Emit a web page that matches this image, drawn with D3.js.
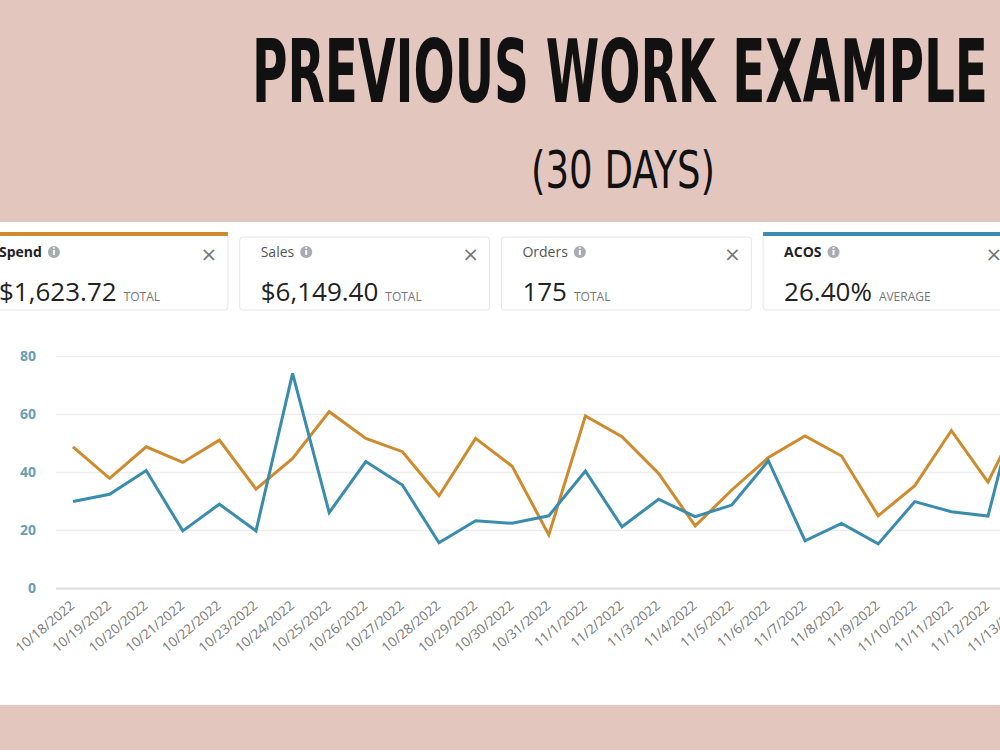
<!DOCTYPE html>
<html>
<head>
<meta charset="utf-8">
<script src="https://cdn.jsdelivr.net/npm/d3@7"></script>
<style>
  body { margin: 0; background: #e3c7bf; overflow: hidden; }
  svg { display: block; }
</style>
</head>
<body>
<svg></svg>
<script>
// chart values
const dates = ['10/18/2022','10/19/2022','10/20/2022','10/21/2022','10/22/2022','10/23/2022','10/24/2022',
  '10/25/2022','10/26/2022','10/27/2022','10/28/2022','10/29/2022','10/30/2022','10/31/2022',
  '11/1/2022','11/2/2022','11/3/2022','11/4/2022','11/5/2022','11/6/2022','11/7/2022',
  '11/8/2022','11/9/2022','11/10/2022','11/11/2022','11/12/2022','11/13/2022'];
const spend = [48.7, 37.8, 48.7, 43.3, 51, 34.1, 44.7, 60.8, 51.6, 47, 31.8, 51.6, 42, 18.3,
  59.3, 52.2, 39.5, 21.4, 33.8, 45, 52.4, 45.5, 24.9, 35.3, 54.3, 36.5, 62];
const acos = [29.8, 32.3, 40.5, 19.7, 28.9, 19.7, 74, 26, 43.6, 35.5, 15.6, 23.2, 22.3, 24.9,
  40.3, 21.1, 30.6, 24.6, 28.6, 43.9, 16.3, 22.3, 15.2, 29.8, 26.3, 24.8, 74];
const yTicks = [0, 20, 40, 60, 80];

const metricNames = ['Spend', 'Sales', 'Orders', 'ACOS'];
const metricValues = ['$1,623.72', '$6,149.40', '175', '26.40%'];
const metricNotes = ['TOTAL', 'TOTAL', 'TOTAL', 'AVERAGE'];
const metricSelected = [true, false, false, true];

const W = 1000, H = 750;
const orange = '#cf8a2c', blue = '#3a8cae';

const svg = d3.select('svg')
    .attr('width', W)
    .attr('height', H);

// title
svg.append('text')
    .attr('x', 252).attr('y', 102)
    .attr('textLength', 736)
    .attr('lengthAdjust', 'spacingAndGlyphs')
    .style('font-family', '"DejaVu Sans Condensed", "DejaVu Sans", sans-serif')
    .style('font-weight', 'bold')
    .style('font-size', '88px')
    .attr('fill', '#111')
    .text('PREVIOUS WORK EXAMPLE');

svg.append('text')
    .attr('x', 531).attr('y', 188)
    .attr('textLength', 184)
    .attr('lengthAdjust', 'spacingAndGlyphs')
    .style('font-family', '"DejaVu Sans Condensed", "DejaVu Sans", sans-serif')
    .style('font-size', '52px')
    .attr('fill', '#111')
    .text('(30 DAYS)');

// white panel
svg.append('rect')
    .attr('x', 0).attr('y', 222)
    .attr('width', W).attr('height', 483)
    .attr('fill', '#ffffff');

// metric cards
const cardScale = d3.scaleBand()
    .domain(metricNames)
    .range([-22, 1013])
    .paddingInner(0.045);

const cards = svg.selectAll('g.card')
    .data(metricNames)
    .join('g')
    .attr('class', 'card')
    .attr('transform', d => `translate(${cardScale(d)}, 0)`);

cards.append('rect')
    .attr('x', 0).attr('y', (d, i) => metricSelected[i] ? 233 : 237)
    .attr('width', cardScale.bandwidth())
    .attr('height', (d, i) => metricSelected[i] ? 77 : 73)
    .attr('rx', 3)
    .attr('fill', '#fff')
    .attr('stroke', '#e6e6e6');

cards.filter((d, i) => metricSelected[i])
    .append('rect')
    .attr('x', 0).attr('y', 232)
    .attr('width', cardScale.bandwidth())
    .attr('height', 4)
    .attr('fill', (d, i) => d === 'Spend' ? orange : blue);

cards.append('text')
    .attr('x', 21).attr('y', 257)
    .style('font-family', '"Open Sans", sans-serif')
    .style('font-size', '14px')
    .style('font-weight', (d, i) => metricSelected[i] ? 'bold' : 'normal')
    .attr('fill', (d, i) => metricSelected[i] ? '#222' : '#555')
    .text(d => d)
    .each(function() {
        const g = d3.select(this.parentNode);
        const cx = 21 + this.getComputedTextLength() + 12;
        g.append('circle')
            .attr('cx', cx).attr('cy', 252)
            .attr('r', 6).attr('fill', '#a7acb3');
        g.append('rect')
            .attr('x', cx - 1).attr('y', 250)
            .attr('width', 2).attr('height', 5)
            .attr('fill', '#fff');
        g.append('circle')
            .attr('cx', cx).attr('cy', 248)
            .attr('r', 1).attr('fill', '#fff');
    });

cards.append('text')
    .attr('x', cardScale.bandwidth() - 19).attr('y', 261)
    .attr('text-anchor', 'middle')
    .style('font-family', '"DejaVu Sans", sans-serif')
    .style('font-size', '20px')
    .attr('fill', '#777')
    .text('×');

const valueText = cards.append('text')
    .attr('x', 21).attr('y', 301)
    .style('font-family', '"Open Sans", sans-serif')
    .attr('fill', '#222');
valueText.append('tspan')
    .style('font-size', '26px')
    .text((d, i) => metricValues[i]);
valueText.append('tspan')
    .attr('dx', 7)
    .style('font-size', '12px')
    .attr('fill', '#777')
    .text((d, i) => metricNotes[i]);

// line chart
const scaleX = d3.scalePoint()
    .domain(dates)
    .range([73, 73 + 36.6 * (dates.length - 1)]);

const scaleY = d3.scaleLinear()
    .domain([0, 80])
    .range([588, 356]);

const chartG = svg.append('g');

const axisY = d3.axisLeft(scaleY)
    .tickValues(yTicks)
    .tickSize(-(W - 56))
    .tickPadding(20);

const axisYG = chartG.append('g')
    .attr('transform', 'translate(56, 0)')
    .call(axisY);
axisYG.select('.domain').remove();
axisYG.selectAll('.tick line')
    .attr('stroke', d => d === 0 ? '#dcdcdc' : '#eeeeee')
    .attr('stroke-width', d => d === 0 ? 2 : 1.5);
axisYG.selectAll('.tick text')
    .attr('x', -20)
    .style('font-family', '"Open Sans", sans-serif')
    .style('font-size', '14px')
    .style('font-weight', 'bold')
    .attr('fill', '#6b9db3');

const axisX = d3.axisBottom(scaleX).tickSize(0).tickPadding(0);
const axisXG = chartG.append('g')
    .attr('transform', 'translate(2, 607)')
    .call(axisX);
axisXG.select('.domain').remove();
axisXG.selectAll('.tick text')
    .attr('text-anchor', 'end')
    .attr('dy', 0)
    .attr('y', 0)
    .attr('transform', 'rotate(-40)')
    .style('font-family', '"Open Sans", sans-serif')
    .style('font-size', '13.5px')
    .attr('fill', '#777');

const line = d3.line()
    .x((d, i) => scaleX(dates[i]))
    .y(d => scaleY(d));

chartG.append('path')
    .datum(spend)
    .attr('d', line)
    .attr('fill', 'none')
    .attr('stroke', orange)
    .attr('stroke-width', 3)
    .attr('stroke-linejoin', 'miter');

chartG.append('path')
    .datum(acos)
    .attr('d', line)
    .attr('fill', 'none')
    .attr('stroke', blue)
    .attr('stroke-width', 3)
    .attr('stroke-linejoin', 'miter');
</script>
</body>
</html>
